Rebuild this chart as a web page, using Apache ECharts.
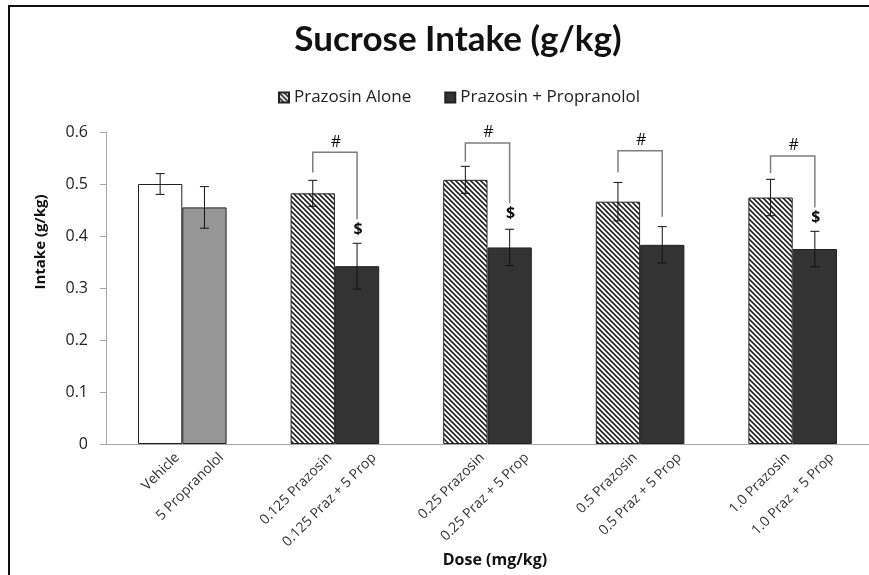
<!DOCTYPE html>
<html><head><meta charset="utf-8">
<script src="https://cdn.jsdelivr.net/npm/echarts@6/dist/echarts.min.js"></script>
<style>html,body{margin:0;padding:0;background:#fff}#c{width:869px;height:575px}</style>
</head><body><div id="c"></div>
<script>
// ---- data ----
const groups = ["Control", "0.125", "0.25", "0.5", "1.0"];
const labelsA = ["Vehicle", "0.125 Prazosin", "0.25 Prazosin", "0.5 Prazosin", "1.0 Prazosin"];
const labelsB = ["5 Propranolol", "0.125 Praz + 5 Prop", "0.25 Praz + 5 Prop", "0.5 Praz + 5 Prop", "1.0 Praz + 5 Prop"];
const valuesA = [0.500, 0.482, 0.508, 0.466, 0.474];
const valuesB = [0.455, 0.342, 0.378, 0.383, 0.375];
const semA = [0.020, 0.025, 0.026, 0.037, 0.035];
const semB = [0.040, 0.044, 0.035, 0.035, 0.034];
// significance brackets (value units)
const bracketTop = [null, 0.561, 0.579, 0.564, 0.554];
const bracketLeftEnd = [null, 0.522, 0.543, 0.522, 0.521];
const bracketRightEnd = [null, 0.432, 0.463, 0.437, 0.455];
const dollarMark = [false, true, true, false, true];
const yTicks = [0, 0.1, 0.2, 0.3, 0.4, 0.5, 0.6];

// ---- style ----
const BAR_W = 44.3;
const FONT = "'Open Sans', 'Noto Sans', sans-serif";
function hatch() {
  const s = 5;
  const c = document.createElement('canvas');
  c.width = s; c.height = s;
  const g = c.getContext('2d');
  g.fillStyle = '#fff'; g.fillRect(0, 0, s, s);
  g.strokeStyle = '#222'; g.lineWidth = 1.6;
  for (let k = -1; k <= 1; k++) {
    g.beginPath(); g.moveTo(-1, k * s - 1); g.lineTo(s + 1, k * s + s + 1); g.stroke();
  }
  return { image: c, repeat: 'repeat' };
}
const hatchPattern = hatch();

const chart = echarts.init(document.getElementById('c'));

function errItem(sign, vals, sems) {
  return function (params, api) {
    const i = api.value(0);
    const v = vals[i], e = sems[i];
    const c = api.coord([i, v]);
    const x = c[0] + sign * BAR_W / 2;
    const yTop = api.coord([i, v + e])[1];
    const yBot = api.coord([i, v - e])[1];
    const st = { stroke: '#111', lineWidth: 1 };
    return { type: 'group', children: [
      { type: 'line', shape: { x1: x, y1: yTop, x2: x, y2: yBot }, style: st },
      { type: 'line', shape: { x1: x - 4.5, y1: yTop, x2: x + 4.5, y2: yTop }, style: st },
      { type: 'line', shape: { x1: x - 4.5, y1: yBot, x2: x + 4.5, y2: yBot }, style: st }
    ]};
  };
}

function bracketItem(params, api) {
  const i = api.value(0);
  if (bracketTop[i] == null) return null;
  const cx = api.coord([i, 0])[0];
  const xl = cx - BAR_W / 2, xr = cx + BAR_W / 2;
  const yT = api.coord([i, bracketTop[i]])[1];
  const yL = api.coord([i, bracketLeftEnd[i]])[1];
  const yR = api.coord([i, bracketRightEnd[i]])[1];
  const st = { stroke: '#7f7f7f', lineWidth: 1.5, fill: null };
  const ch = [
    { type: 'polyline', shape: { points: [[xl, yL], [xl, yT], [xr, yT], [xr, yR]] }, style: st },
    { type: 'text', style: { text: '#', x: cx + 1, y: yT - 2, align: 'center', verticalAlign: 'bottom', font: '16px ' + FONT, fill: '#111' } }
  ];
  if (dollarMark[i]) {
    ch.push({ type: 'text', style: { text: '$', x: xr + 1, y: yR + 2, align: 'center', verticalAlign: 'top', font: 'bold 16px ' + FONT, fill: '#111' } });
  }
  return { type: 'group', children: ch };
}

const labelCommon = {
  show: true, position: ['50%', '100%'], rotate: 45, align: 'right', verticalAlign: 'middle',
  offset: [4, 20], fontFamily: FONT, fontSize: 14, color: '#333'
};

const option = {
  animation: false,
  backgroundColor: '#fff',
  title: {
    text: 'Sucrose Intake (g/kg)', left: 453, top: 17, textAlign: 'center',
    textStyle: { fontFamily: 'Lato, sans-serif', fontWeight: 'bold', fontSize: 35, color: '#111' }
  },
  legend: {
    left: 273, top: 84, itemWidth: 10, itemHeight: 10, itemGap: 33, icon: 'rect',
    textStyle: { fontFamily: FONT, fontSize: 17, color: '#222' },
    data: ['Prazosin Alone', 'Prazosin + Propranolol']
  },
  grid: { left: 106, right: -5, top: 132, height: 312 },
  xAxis: {
    type: 'category', data: groups,
    axisLine: { lineStyle: { color: '#a6a6a6', width: 1 } },
    axisTick: { show: false }, axisLabel: { show: false }
  },
  yAxis: {
    type: 'value', min: 0, max: 0.6, interval: 0.1,
    axisLine: { show: true, lineStyle: { color: '#a6a6a6' } },
    axisTick: { show: true, length: 6, lineStyle: { color: '#a6a6a6' } },
    splitLine: { show: false },
    axisLabel: { margin: 18, fontFamily: FONT, fontSize: 16, color: '#222',
      formatter: v => { const t = yTicks.find(t => Math.abs(t - v) < 1e-9); return t === 0 ? '0' : String(t); } }
  },
  graphic: [
    { type: 'rect', shape: { x: 9, y: 6, width: 900, height: 600 }, style: { fill: null, stroke: '#111', lineWidth: 2 }, silent: true },
    { type: 'text', x: 41, y: 242, rotation: Math.PI / 2, style: { text: 'Intake (g/kg)', align: 'center', verticalAlign: 'middle', font: 'bold 15px ' + FONT, fill: '#111' } },
    { type: 'text', x: 495, y: 560, style: { text: 'Dose (mg/kg)', align: 'center', verticalAlign: 'middle', font: 'bold 16px ' + FONT, fill: '#111' } }
  ],
  series: [
    {
      name: 'Prazosin Alone', type: 'bar', barWidth: BAR_W, barGap: '0%',
      itemStyle: { color: hatchPattern, borderColor: '#222', borderWidth: 1 },
      data: valuesA.map((v, i) => i === 0 ? { value: v, itemStyle: { color: '#fff' } } : v),
      label: Object.assign({}, labelCommon, { formatter: p => labelsA[p.dataIndex] })
    },
    {
      name: 'Prazosin + Propranolol', type: 'bar', barWidth: BAR_W, barGap: '0%',
      itemStyle: { color: '#333333', borderColor: '#222', borderWidth: 1 },
      data: valuesB.map((v, i) => i === 0 ? { value: v, itemStyle: { color: '#969696' } } : v),
      label: Object.assign({}, labelCommon, { formatter: p => labelsB[p.dataIndex] })
    },
    { type: 'custom', renderItem: errItem(-1, valuesA, semA), data: groups.map((g, i) => [i]), clip: false, z: 5 },
    { type: 'custom', renderItem: errItem(1, valuesB, semB), data: groups.map((g, i) => [i]), clip: false, z: 5 },
    { type: 'custom', renderItem: bracketItem, data: groups.map((g, i) => [i]), clip: false, z: 6 }
  ]
};
chart.setOption(option);
</script></body></html>
